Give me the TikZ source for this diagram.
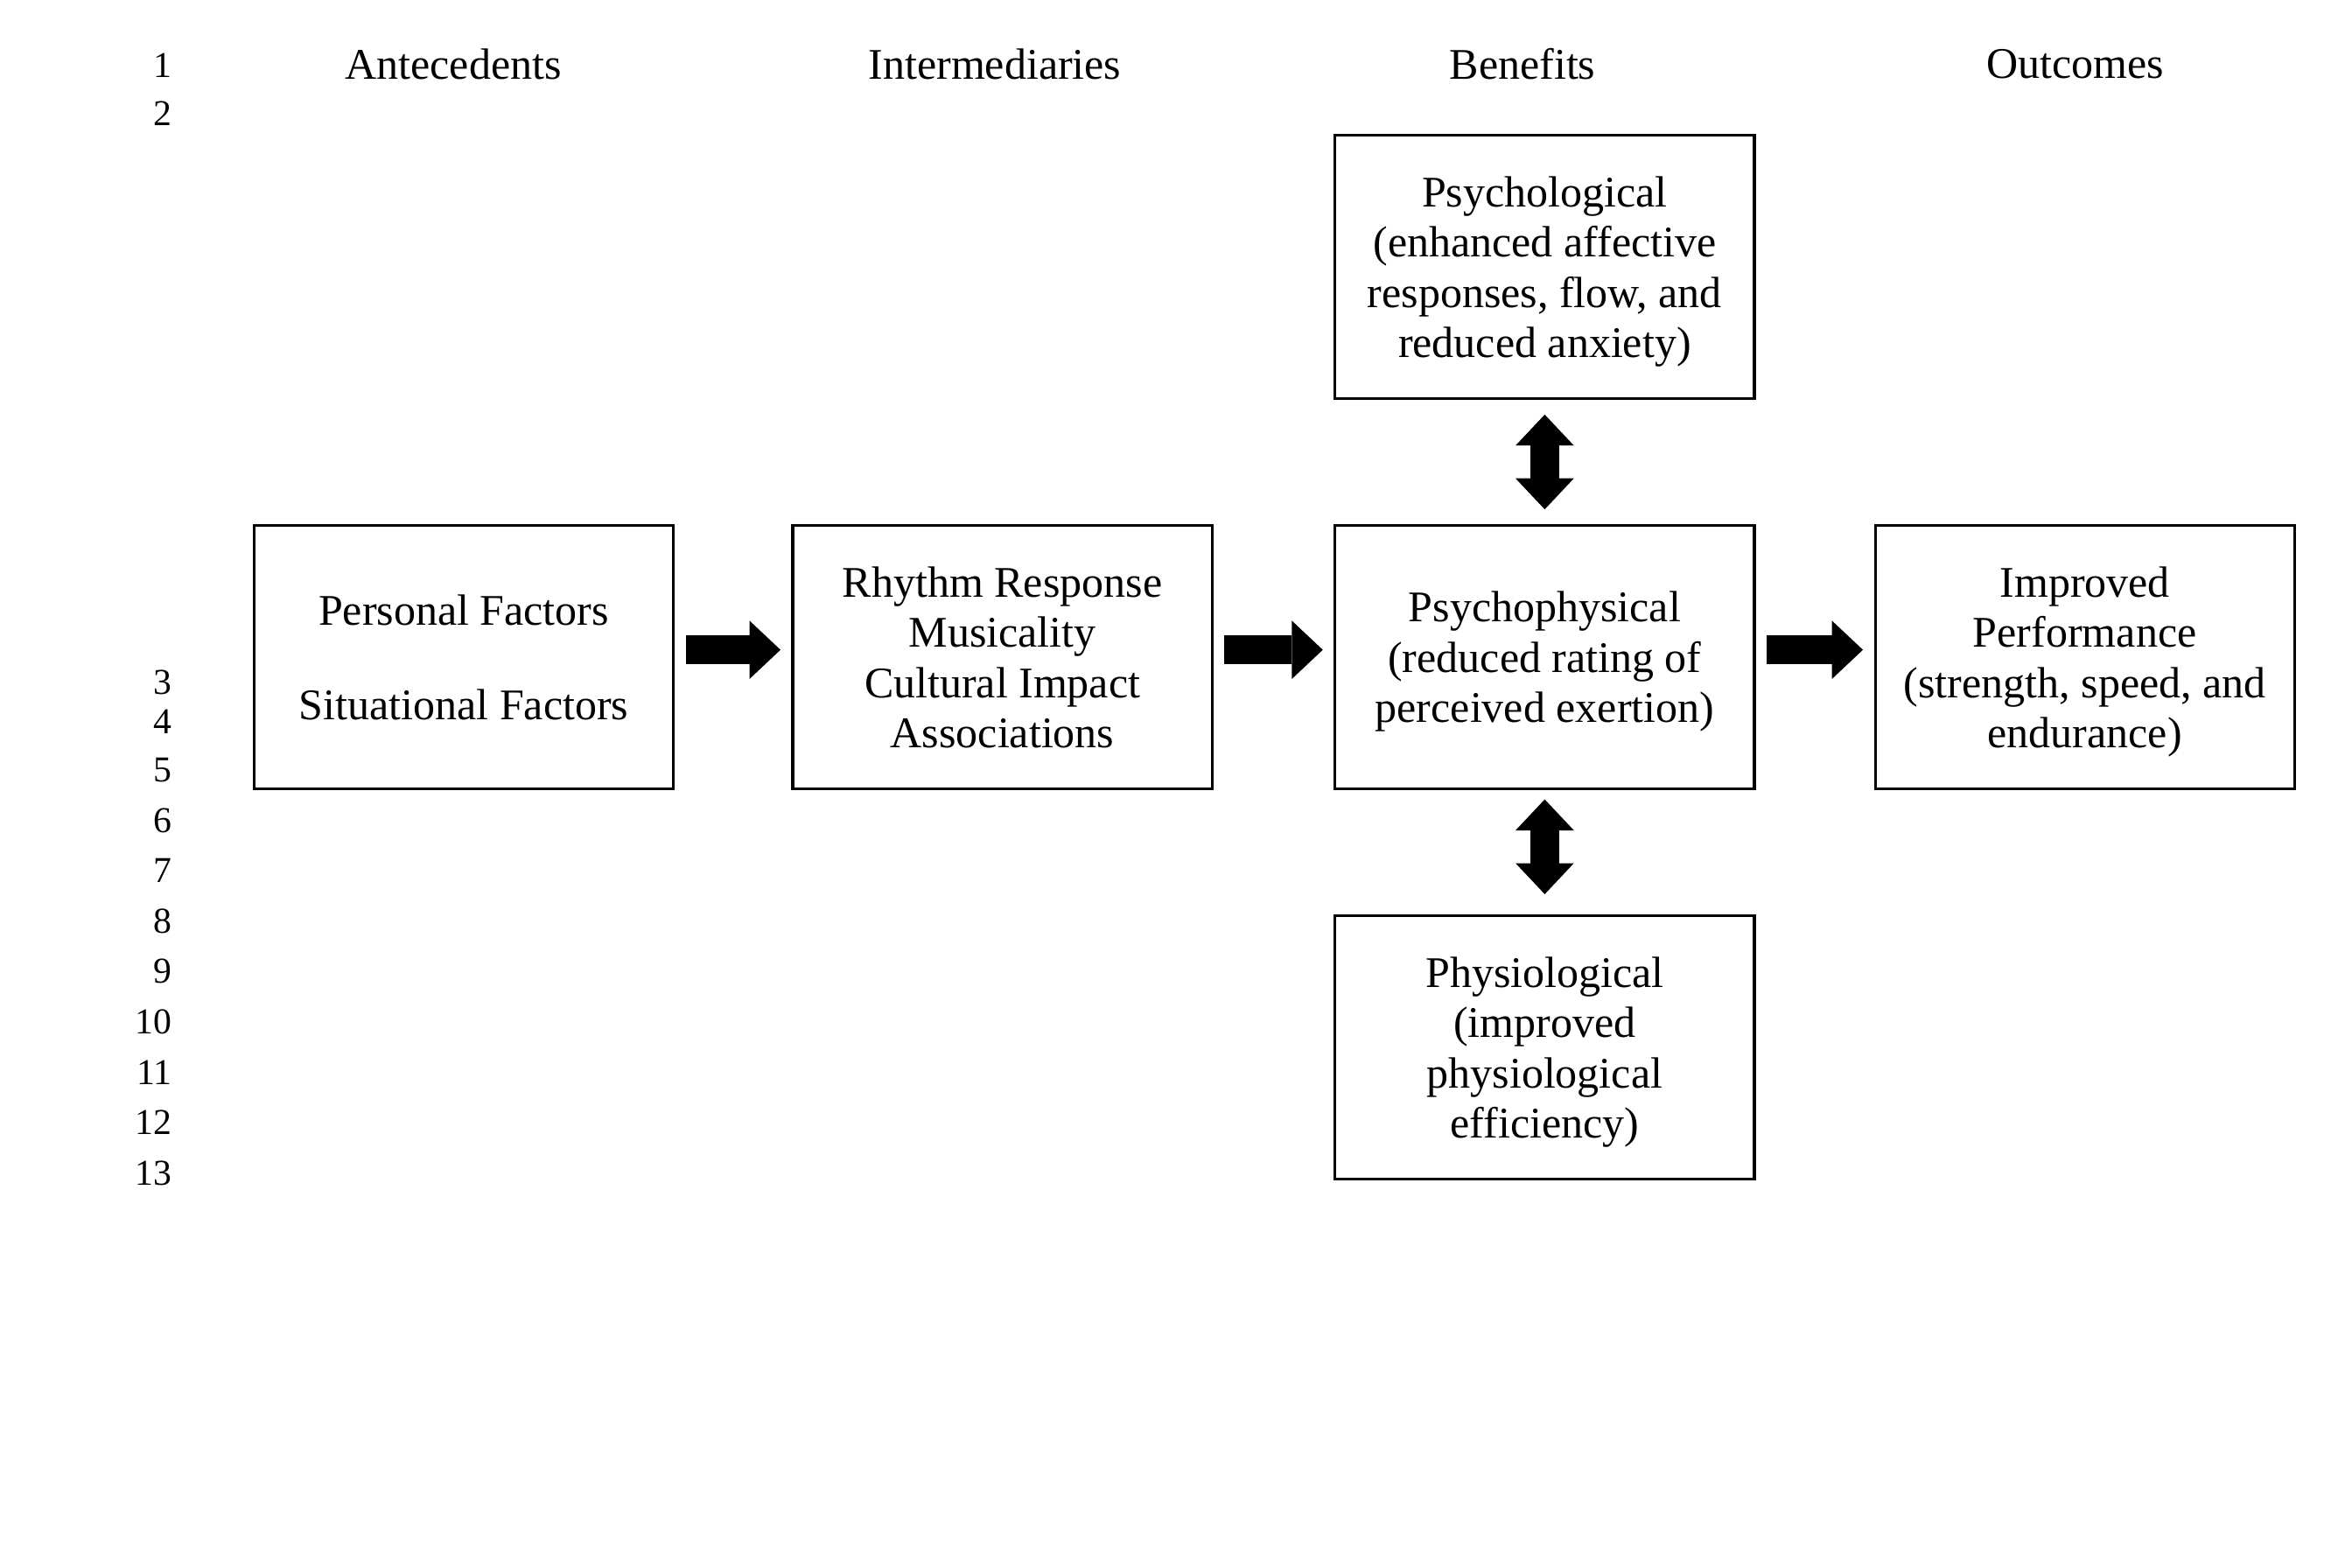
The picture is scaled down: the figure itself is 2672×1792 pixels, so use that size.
\documentclass[tikz,border=0pt]{standalone}
\usepackage{fontspec}
\setmainfont{Liberation Serif}
\usetikzlibrary{arrows.meta, positioning}
\tikzset{
    stagebox/.style={rectangle, draw, line width=0.75pt, minimum width=115pt, minimum height=72.3pt, align=center, text depth=0pt, font=\fontsize{12}{13.8}\selectfont},
    heading/.style={font=\fontsize{12}{13.8}\selectfont},
    lineno/.style={anchor=east, inner sep=0pt, font=\fontsize{10}{12}\selectfont},
    bigarrow/.style={line width=8pt, -{Triangle[length=8.5pt, width=16pt, line width=0pt]}, shorten >=3pt, shorten <=3pt},
    bigdarrow/.style={line width=8pt, {Triangle[length=8.5pt, width=16pt, line width=0pt]}-{Triangle[length=8.5pt, width=16pt, line width=0pt]}, shorten >=4pt, shorten <=4pt}
}

\begin{document}
\begin{tikzpicture}[x=0.24pt, y=-0.24pt]
            \useasboundingbox (0,0) rectangle (2672,1792);

            \node (hante) [heading] at (518,73) {Antecedents};
            \node (hinter) [heading] at (1137,73) {Intermediaries};
            \node (hben) [heading] at (1740,73) {Benefits};
            \node (hout) [heading] at (2372,73) {Outcomes};

            \node (n1) [lineno] at (197,75) {1};
            \node (n2) [lineno] at (197,130) {2};
            \node (n3) [lineno] at (197,780) {3};
            \node (n4) [lineno] at (197,825) {4};
            \foreach \n in {5,...,13}
                \node (n\n) [lineno] at (197,{880+(\n-5)*57.6}) {\n};

            \node (pers) [stagebox] at (530,751) {Personal Factors\\[12pt]Situational Factors};
            \node (inter) [stagebox, right=32pt of pers] {Rhythm Response\\Musicality\\Cultural Impact\\Associations};
            \node (psyphys) [stagebox, right=33pt of inter] {Psychophysical\\(reduced rating of\\perceived exertion)};
            \node (perf) [stagebox, right=32.4pt of psyphys] {Improved\\Performance\\(strength, speed, and\\endurance)};

            \node (psychol) [stagebox, above=34pt of psyphys] {Psychological\\(enhanced affective\\responses, flow, and\\reduced anxiety)};
            \node (physiol) [stagebox, below=34pt of psyphys] {Physiological\\(improved\\physiological\\efficiency)};

            \draw[bigarrow] ([yshift=2pt]pers.east) -- ([yshift=2pt]inter.west);
            \draw[bigarrow] ([yshift=2pt]inter.east) -- ([yshift=2pt]psyphys.west);
            \draw[bigarrow] ([yshift=2pt]psyphys.east) -- ([yshift=2pt]perf.west);

            \draw[bigdarrow] (psychol) -- (psyphys);
            \draw[bigdarrow, shorten <=2.5pt, shorten >=5.5pt] (psyphys) -- (physiol);
        \end{tikzpicture}
\end{document}
